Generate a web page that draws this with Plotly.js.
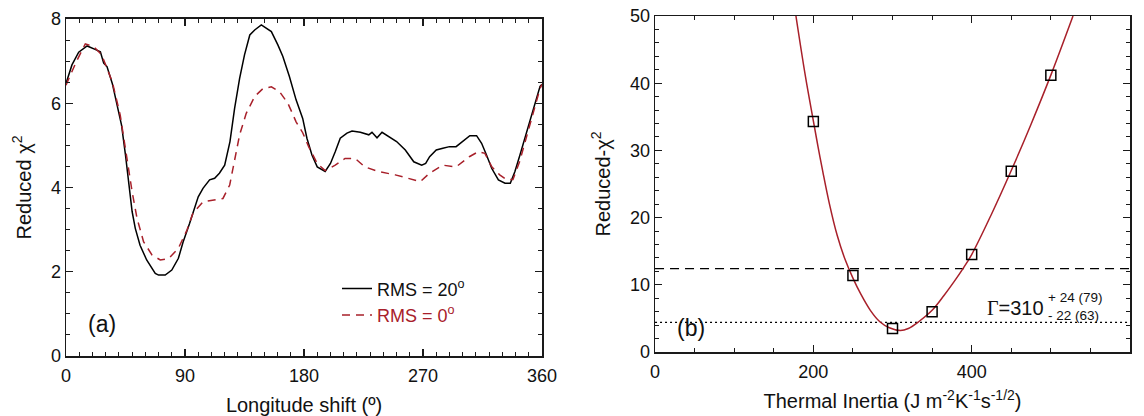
<!DOCTYPE html>
<html>
<head>
<meta charset="utf-8">
<script src="https://cdn.plot.ly/plotly-3.0.1.min.js"></script>
<style>html,body{margin:0;padding:0;background:#fff;}#chart{width:1144px;height:416px;}</style>
</head>
<body>
<div id="chart"></div>
<script>
// ---- Panel (a): reduced chi^2 vs longitude shift ----
const lonRms20 = [0,4.5,9.6,16,22,26,28.5,31,35,38.6,42,45,47.4,50,52.4,56,61,67.5,70,75,80,85,88.5,91.5,93.5,100,103.6,108.6,112.4,116,120,124,127.5,131.3,135,139,142.7,147.7,151.5,155.3,160.3,164,169,174,179,182.2,186,190,196,200,203.6,207.4,212.5,216.3,222.6,229,231.4,235.2,239,244,250,256.6,263,269,272,275,280,285,290,295,300,305.4,310.5,314.3,318,322,327,332,336,339.5,343.3,347,351,354.7,358.5,360];
const chiRms20 = [6.47,6.91,7.21,7.36,7.28,7.22,6.95,6.87,6.47,6.0,5.48,4.77,4.06,3.43,3.03,2.63,2.28,1.96,1.92,1.92,2.04,2.32,2.7,2.95,3.15,3.78,3.98,4.18,4.22,4.34,4.53,5.09,5.88,6.59,7.15,7.62,7.74,7.86,7.78,7.70,7.38,7.11,6.63,6.08,5.64,5.17,4.77,4.49,4.38,4.57,4.85,5.17,5.29,5.34,5.31,5.25,5.31,5.18,5.31,5.21,5.09,4.89,4.61,4.53,4.57,4.73,4.89,4.93,4.97,4.97,5.09,5.23,5.23,5.05,4.77,4.45,4.18,4.10,4.10,4.38,4.77,5.17,5.56,6.0,6.4,6.45];

const lonRms0 = [0,8,14.6,21,27,35,41,46,50,53.7,58.7,65,71.3,77.6,85,91.5,96,103.6,111,118.7,123.8,127.5,131.3,136.3,142.7,149,155.3,161.6,167.8,174,179,183.5,190,196,203.6,211,218.7,226,236,249,259,268,275,285,295,305,311.8,316.8,322,328,333,338,343,348,353,358.5,360];
const chiRms0 = [6.43,7.0,7.41,7.34,7.15,6.51,5.72,4.69,3.9,3.27,2.71,2.40,2.28,2.31,2.56,2.99,3.39,3.66,3.70,3.74,4.06,4.61,5.25,5.76,6.16,6.35,6.39,6.27,6.0,5.56,5.3,4.97,4.57,4.40,4.53,4.69,4.69,4.49,4.38,4.30,4.22,4.14,4.34,4.53,4.49,4.73,4.85,4.81,4.49,4.30,4.19,4.19,4.61,5.17,5.72,6.35,6.45];

const xTicksA = [0,90,180,270,360];
const yTicksA = [0,2,4,6,8];

// ---- Panel (b): reduced chi^2 vs thermal inertia ----
const thermalInertia = [200,250,300,350,400,450,500];
const chiThermal = [34.3,11.4,3.5,6.0,14.5,26.9,41.2];

const fitInertia = [178,190,200,206,212,220,230,240,250,260,272,284,296,310,320,333,350,365,378,389,400,425,450,475,500,528];
const fitChi = [50,41,34.4,30.5,26.8,22.2,17.4,13.8,11.0,8.6,6.2,4.5,3.6,3.2,3.5,4.5,6.2,8.4,10.5,12.4,14.5,20.5,27,33.9,41.2,50];

const inertiaSpan = [0,600];
const chiLevel3sigma = 12.4;
const chiLevel1sigma = 4.4;

const xTicksB = [0,200,400,600];
const yTicksB = [0,10,20,30,40,50];

const FONT = 'Liberation Sans, Arial, Helvetica, sans-serif';
const AX = '#1a1a1a';
const RED = '#a8202a';

function axisBase(extra) {
  return Object.assign({
    showline: true, linecolor: AX, linewidth: 1.5, mirror: 'allticks',
    ticks: 'inside', ticklen: 7, tickwidth: 1.3, tickcolor: AX,
    showgrid: false, zeroline: false,
    tickfont: {family: FONT, size: 18, color: '#111'},
    fixedrange: true
  }, extra);
}

const traces = [
  {x: lonRms20, y: chiRms20, xaxis: 'x', yaxis: 'y', type: 'scatter', mode: 'lines',
   name: 'RMS = 20<sup>o</sup>', line: {color: '#000', width: 1.5}},
  {x: lonRms0, y: chiRms0, xaxis: 'x', yaxis: 'y', type: 'scatter', mode: 'lines',
   name: '<span style="color:' + RED + '">RMS = 0<sup>o</sup></span>', line: {color: RED, width: 1.5, dash: '8px,6px'}},
  {x: inertiaSpan, y: inertiaSpan.map(() => chiLevel3sigma), xaxis: 'x2', yaxis: 'y2', type: 'scatter', mode: 'lines',
   showlegend: false, line: {color: '#000', width: 1.2, dash: '9px,6px'}},
  {x: inertiaSpan, y: inertiaSpan.map(() => chiLevel1sigma), xaxis: 'x2', yaxis: 'y2', type: 'scatter', mode: 'lines',
   showlegend: false, line: {color: '#000', width: 1.3, dash: '2px,3px'}},
  {x: fitInertia, y: fitChi, xaxis: 'x2', yaxis: 'y2', type: 'scatter', mode: 'lines',
   showlegend: false, line: {color: RED, width: 1.5, shape: 'spline', smoothing: 1}},
  {x: thermalInertia, y: chiThermal, xaxis: 'x2', yaxis: 'y2', type: 'scatter', mode: 'markers',
   showlegend: false, marker: {symbol: 'square-open', size: 10, color: '#000', line: {width: 1.5, color: '#000'}}}
];

const layout = {
  width: 1144, height: 416,
  margin: {l: 66, r: 14, t: 16, b: 60},
  paper_bgcolor: '#fff', plot_bgcolor: '#fff',
  font: {family: FONT, color: '#111'},
  showlegend: true,
  legend: {x: 0.2547, xanchor: 'left', y: 0.252, yanchor: 'top', bgcolor: 'rgba(0,0,0,0)',
           font: {family: FONT, size: 18, color: '#111'}, traceorder: 'normal', borderwidth: 0},
  xaxis: axisBase({domain: [0, 0.4474], range: [0, 360], tickvals: xTicksA, anchor: 'y', ticklabelstandoff: 3,
    minor: {ticks: 'inside', dtick: 10, ticklen: 4, tickwidth: 1, tickcolor: AX, showgrid: false},
    title: {text: 'Longitude shift (º)', font: {family: FONT, size: 20, color: '#111'}, standoff: 13}}),
  yaxis: axisBase({domain: [0, 0.9912], range: [0, 8], tickvals: yTicksA, anchor: 'x',
    minor: {ticks: 'inside', dtick: 0.5, ticklen: 4, tickwidth: 1, tickcolor: AX, showgrid: false},
    title: {text: 'Reduced χ<sup>2</sup>', font: {family: FONT, size: 20, color: '#111'}, standoff: 14}}),
  xaxis2: axisBase({domain: [0.5536, 1], range: [0, 600], tickvals: xTicksB, anchor: 'y2', ticklabelstandoff: 3,
    minor: {ticks: 'inside', dtick: 50, ticklen: 4, tickwidth: 1, tickcolor: AX, showgrid: false},
    title: {text: 'Thermal Inertia (J m<sup>-2</sup>K<sup>-1</sup>s<sup>-1/2</sup>)', font: {family: FONT, size: 20, color: '#111'}, standoff: 13}}),
  yaxis2: axisBase({domain: [0.01176, 1], range: [0, 50], tickvals: yTicksB, anchor: 'x2',
    minor: {ticks: 'inside', dtick: 2, ticklen: 4, tickwidth: 1, tickcolor: AX, showgrid: false},
    title: {text: 'Reduced-χ<sup>2</sup>', font: {family: FONT, size: 20, color: '#111'}, standoff: 14}}),
  annotations: [
    {xref: 'x', yref: 'y', x: 27.2, y: 0.76, text: '(a)', showarrow: false,
     font: {family: FONT, size: 23, color: '#111'}, xanchor: 'center', yanchor: 'middle'},
    {xref: 'x2', yref: 'y2', x: 46, y: 3.6, text: '(b)', showarrow: false,
     font: {family: FONT, size: 23, color: '#111'}, xanchor: 'center', yanchor: 'middle'},
    {xref: 'x2', yref: 'y2', x: 494, y: 6.6, text: '<span style="font-family:Liberation Serif, Times New Roman, serif">Γ</span>=310', showarrow: false,
     font: {family: FONT, size: 20, color: '#111'}, xanchor: 'right', yanchor: 'middle'},
    {xref: 'x2', yref: 'y2', x: 494, y: 8.1, text: '+ 24 (79)', showarrow: false,
     font: {family: FONT, size: 13.5, color: '#111'}, xanchor: 'left', yanchor: 'middle'},
    {xref: 'x2', yref: 'y2', x: 494, y: 5.36, text: '- 22 (63)', showarrow: false,
     font: {family: FONT, size: 13.5, color: '#111'}, xanchor: 'left', yanchor: 'middle'}
  ]
};

Plotly.newPlot('chart', traces, layout, {staticPlot: true, displayModeBar: false});
</script>
</body>
</html>
